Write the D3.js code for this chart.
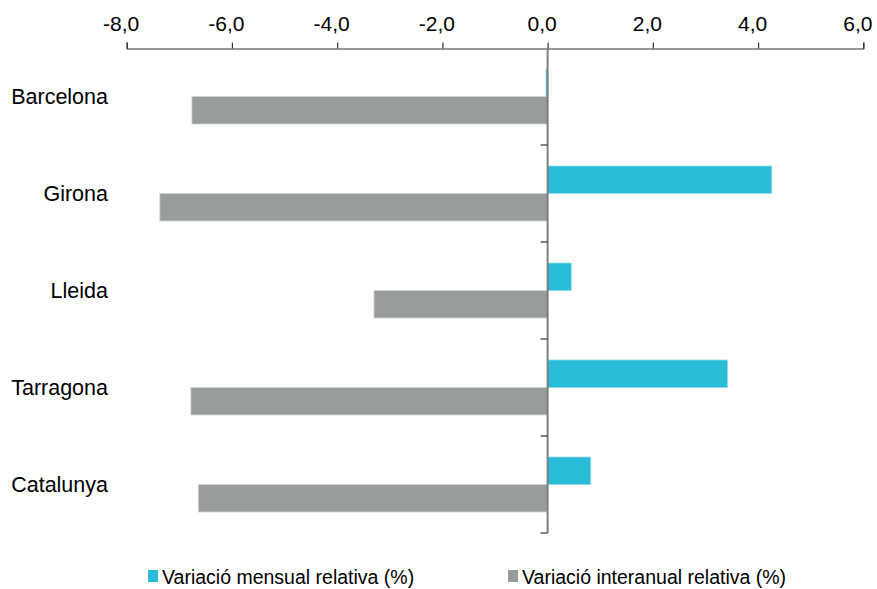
<!DOCTYPE html>
<html>
<head>
<meta charset="utf-8">
<script src="https://cdn.jsdelivr.net/npm/d3@7/dist/d3.min.js"></script>
<style>
  html, body { margin: 0; padding: 0; background: #fff; }
  svg { display: block; font-family: "Liberation Sans", Arial, sans-serif; }
</style>
</head>
<body>
<svg id="chart" width="877" height="589"></svg>
<script>
const categories = ["Barcelona", "Girona", "Lleida", "Tarragona", "Catalunya"];
const seriesNames = ["Variació mensual relativa (%)", "Variació interanual relativa (%)"];
const mensual = [-0.03, 4.26, 0.45, 3.42, 0.82];
const interanual = [-6.76, -7.37, -3.30, -6.78, -6.64];
const tickValues = [-8, -6, -4, -2, 0, 2, 4, 6];
const colors = ["#29BCD9", "#999C9C"];
const strokes = ["#8fdcec", "#d2d4d4"];

const svg = d3.select("#chart");
const x = d3.scaleLinear().domain([-8, 6]).range([126.7, 863.3]);
const y0 = d3.scaleBand().domain(categories).range([48, 533]).padding(0);
const y1 = d3.scaleBand().domain([0, 1]).range([0, y0.bandwidth()]).paddingInner(0).paddingOuter(0.764);

const fmt = v => d3.format(".1f")(v).replace(".", ",").replace("−", "-");

// top axis
const axis = d3.axisTop(x).tickValues(tickValues).tickSize(6).tickSizeOuter(6).tickFormat(fmt);
const gx = svg.append("g").attr("transform", "translate(0,48.5)").call(axis);
gx.attr("font-family", null).attr("font-size", null);
gx.select(".domain").attr("stroke", "#333").attr("stroke-width", 1.2);
gx.selectAll(".tick line").attr("stroke", "#333").attr("stroke-width", 1.2);
gx.selectAll(".tick text").attr("font-size", 21).attr("fill", "#000")
  .attr("x", -6).attr("y", -17.5).attr("dy", 0);

// bars
const data = [];
categories.forEach((c, i) => {
  data.push({ cat: c, s: 0, v: mensual[i] });
  data.push({ cat: c, s: 1, v: interanual[i] });
});
svg.append("g").selectAll("rect").data(data).join("rect")
  .attr("x", d => x(Math.min(0, d.v)))
  .attr("width", d => Math.abs(x(d.v) - x(0)))
  .attr("y", d => y0(d.cat) + y1(d.s))
  .attr("height", y1.bandwidth())
  .attr("fill", d => colors[d.s])
  .attr("stroke", d => strokes[d.s])
  .attr("stroke-width", 0.8);

// vertical axis at zero
const gy = svg.append("g");
gy.append("line")
  .attr("x1", x(0)).attr("x2", x(0))
  .attr("y1", 48).attr("y2", y0.range()[1])
  .attr("stroke", "#7f7f7f").attr("stroke-width", 2);
const bounds = categories.map(c => y0(c) + y0.bandwidth());
gy.selectAll("line.t").data(bounds).join("line").attr("class", "t")
  .attr("x1", x(0) - 7).attr("x2", x(0))
  .attr("y1", d => d).attr("y2", d => d)
  .attr("stroke", "#333").attr("stroke-width", 1.2);

// category labels
svg.append("g").selectAll("text").data(categories).join("text")
  .attr("x", 108)
  .attr("y", d => y0(d) + y0.bandwidth() / 2)
  .attr("dy", "0.36em")
  .attr("text-anchor", "end")
  .attr("font-size", 21.5)
  .attr("fill", "#000")
  .text(d => d);

// legend
const legendX = [148, 508];
const lg = svg.append("g").selectAll("g").data(seriesNames).join("g")
  .attr("transform", (d, i) => `translate(${legendX[i]},0)`);
lg.append("rect").attr("x", 0).attr("y", 570).attr("width", 10).attr("height", 12)
  .attr("fill", (d, i) => colors[i]);
lg.append("text").attr("x", 14).attr("y", 584).attr("font-size", 19.5).attr("fill", "#000")
  .text(d => d);
</script>
</body>
</html>
